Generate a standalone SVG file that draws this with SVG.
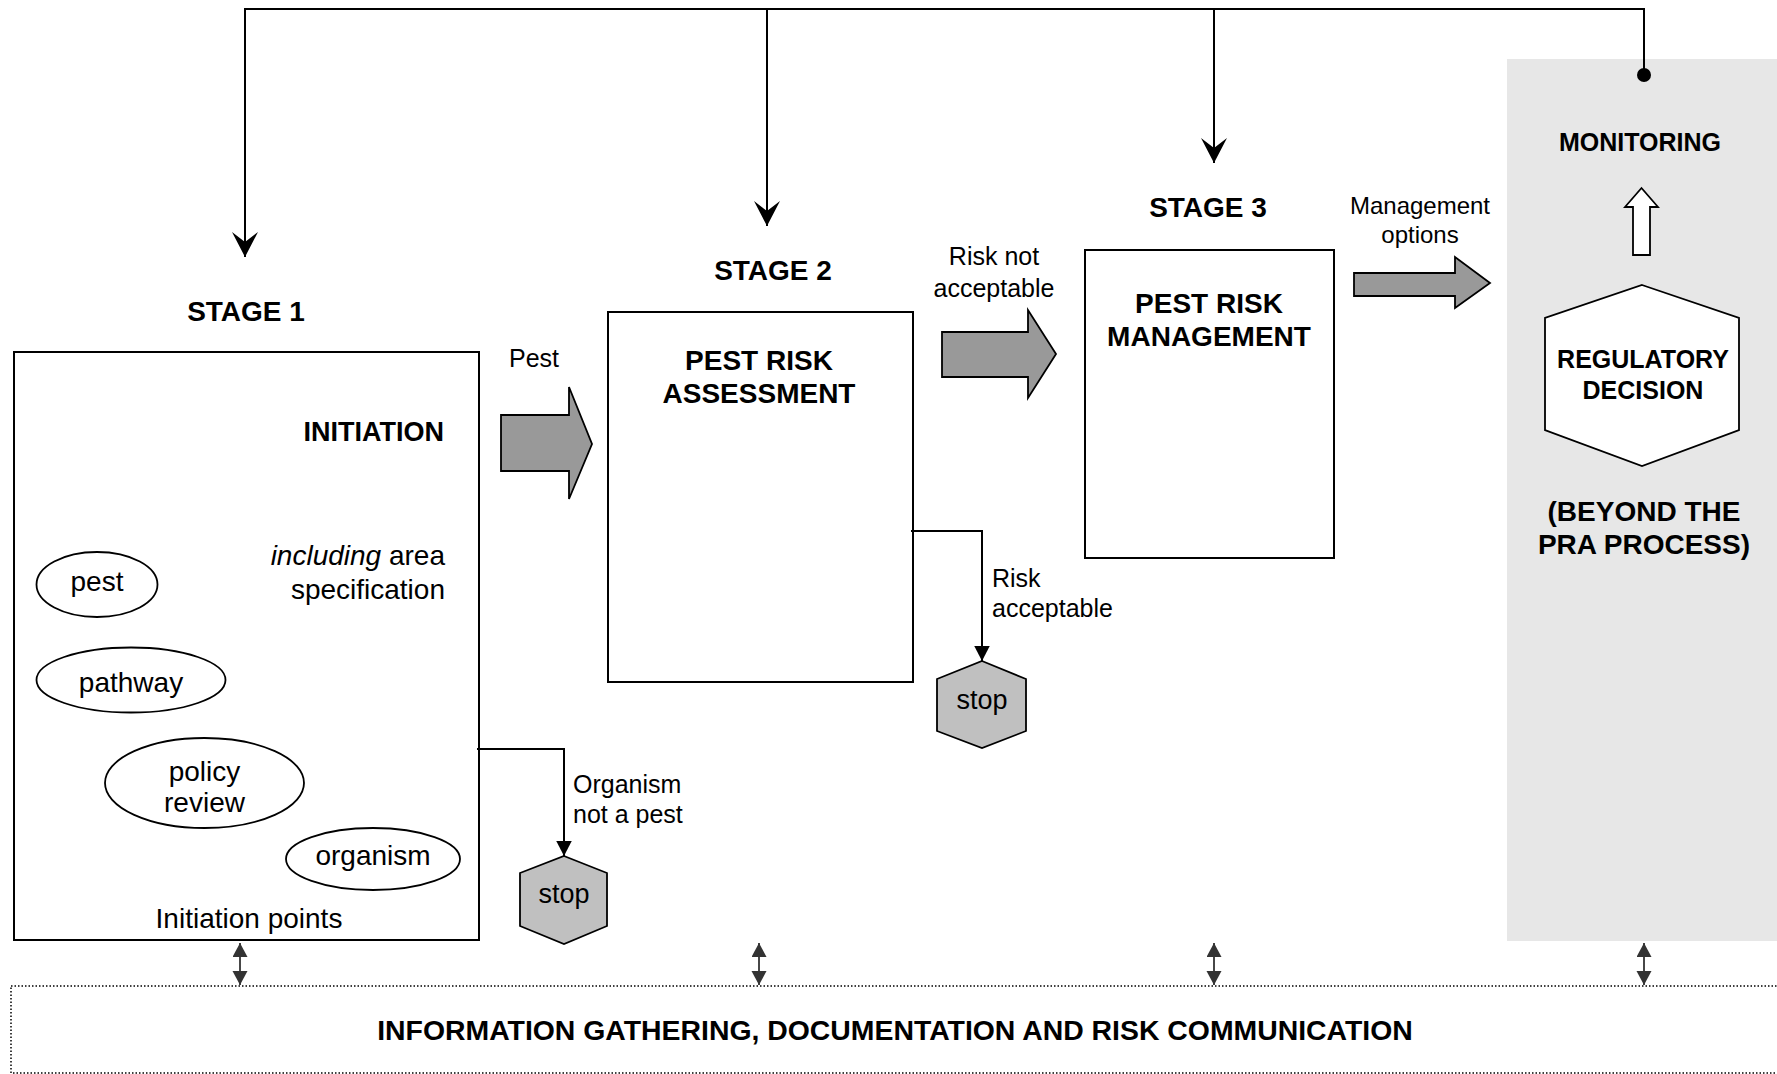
<svg xmlns="http://www.w3.org/2000/svg" width="1777" height="1074" viewBox="0 0 1777 1074">
<style>
text{font-family:"Liberation Sans",Arial,sans-serif;fill:#000}
.b{font-weight:bold;font-size:28px}
.b25{font-weight:bold;font-size:25px}
.n25{font-size:25px}
.n24{font-size:24px}
.n28{font-size:28px}
.box{fill:#fff;stroke:#000;stroke-width:2}
.ell{fill:#fff;stroke:#000;stroke-width:1.8}
.block{fill:#999;stroke:#000;stroke-width:1.8}
.stop{fill:#c0c0c0;stroke:#000;stroke-width:1.8}
.ln{fill:none;stroke:#000;stroke-width:2}
.dbl{fill:none;stroke:#333;stroke-width:1.8}
</style>
<defs>
<marker id="stealth" markerUnits="userSpaceOnUse" markerWidth="27" markerHeight="27" refX="25" refY="13" orient="auto" viewBox="0 0 27 27">
<path d="M25,13 L0,0 L10,13 L0,26 Z" fill="#000"/>
</marker>
<marker id="tri" markerUnits="userSpaceOnUse" markerWidth="16" markerHeight="16" refX="15" refY="7.75" orient="auto" viewBox="0 0 16 16">
<path d="M0,0 L15,7.75 L0,15.5 Z" fill="#000"/>
</marker>
<marker id="dtri" markerUnits="userSpaceOnUse" markerWidth="16" markerHeight="16" refX="14" refY="7.5" orient="auto-start-reverse" viewBox="0 0 16 16">
<path d="M0,0 L14,7.5 L0,15 Z" fill="#333"/>
</marker>
</defs>
<rect id="beyond-panel" x="1507" y="59" width="270" height="882" fill="#e7e7e7"/>
<g id="info-box">
<rect x="11" y="986" width="1780" height="87" fill="#fff" stroke="#000" stroke-width="1.5" stroke-dasharray="1.5,2"/>
<text class="b" x="895" y="1040" text-anchor="middle" style="font-size:28.4px">INFORMATION GATHERING, DOCUMENTATION AND RISK COMMUNICATION</text>
</g>
<g id="stage1">
<text class="b" x="246" y="321" text-anchor="middle">STAGE 1</text>
<rect class="box" x="14" y="352" width="465" height="588"/>
<text class="b" x="444" y="441" text-anchor="end" style="font-size:27px">INITIATION</text>
<text class="n28" x="445" y="565" text-anchor="end"><tspan font-style="italic">including</tspan> area</text>
<text class="n28" x="445" y="599" text-anchor="end">specification</text>
<text class="n28" x="249" y="928" text-anchor="middle">Initiation points</text>
</g>
<g id="ell-pest"><ellipse class="ell" cx="97" cy="584.5" rx="60.5" ry="32.5"/><text class="n28" x="97" y="591" text-anchor="middle">pest</text></g>
<g id="ell-pathway"><ellipse class="ell" cx="131" cy="680" rx="94.5" ry="32.5"/><text class="n28" x="131" y="692" text-anchor="middle">pathway</text></g>
<g id="ell-policy"><ellipse class="ell" cx="204.5" cy="783" rx="99.5" ry="45"/><text class="n28" x="204.5" y="781" text-anchor="middle">policy</text><text class="n28" x="204.5" y="812" text-anchor="middle">review</text></g>
<g id="ell-organism"><ellipse class="ell" cx="373" cy="859" rx="87" ry="31"/><text class="n28" x="373" y="865" text-anchor="middle">organism</text></g>
<g id="stage2">
<text class="b" x="773" y="280" text-anchor="middle">STAGE 2</text>
<rect class="box" x="608" y="312" width="305" height="370"/>
<text class="b" x="759" y="370" text-anchor="middle">PEST RISK</text>
<text class="b" x="759" y="403" text-anchor="middle">ASSESSMENT</text>
</g>
<g id="stage3">
<text class="b" x="1208" y="217" text-anchor="middle">STAGE 3</text>
<rect class="box" x="1085" y="250" width="249" height="308"/>
<text class="b" x="1209" y="313" text-anchor="middle">PEST RISK</text>
<text class="b" x="1209" y="346" text-anchor="middle">MANAGEMENT</text>
</g>
<g id="monitoring">
<text class="b25" x="1640" y="151" text-anchor="middle">MONITORING</text>
</g>
<g id="regulatory-decision">
<polygon points="1642,285 1739,318 1739,430 1642,466 1545,430 1545,318" fill="#fff" stroke="#000" stroke-width="1.8"/>
<text class="b25" x="1643" y="368" text-anchor="middle">REGULATORY</text>
<text class="b25" x="1643" y="399" text-anchor="middle">DECISION</text>
</g>
<g id="beyond-label">
<text class="b" x="1644" y="521" text-anchor="middle">(BEYOND THE</text>
<text class="b" x="1644" y="554" text-anchor="middle">PRA PROCESS)</text>
</g>
<g id="stop1">
<polygon class="stop" points="564,856 607,873 607,926 564,944 520,926 520,873"/>
<text class="n28" x="564" y="903" text-anchor="middle" style="font-size:27px">stop</text>
</g>
<g id="stop2">
<polygon class="stop" points="982,661 1026,679 1026,731 982,748 937,731 937,679"/>
<text class="n28" x="982" y="709" text-anchor="middle" style="font-size:27px">stop</text>
</g>
<g id="connectors">
<polyline class="ln" points="245,256 245,9 1644,9 1644,75"/>
<line class="ln" x1="245" y1="9" x2="245" y2="257" marker-end="url(#stealth)"/>
<line class="ln" x1="767" y1="9" x2="767" y2="226" marker-end="url(#stealth)"/>
<line class="ln" x1="1214" y1="9" x2="1214" y2="163" marker-end="url(#stealth)"/>
<circle cx="1644" cy="75" r="7" fill="#000"/>
<path class="block" d="M501,415 L569,415 L569,387 L592,444 L569,499 L569,471 L501,471 Z"/>
<path class="block" d="M942,332 L1028,332 L1028,310 L1056,354 L1028,398 L1028,377 L942,377 Z"/>
<path class="block" d="M1354,273 L1455,273 L1455,257 L1490,283 L1455,308 L1455,296 L1354,296 Z"/>
<path d="M1633,255 L1633,207 L1625,207 L1641.5,188 L1658,207 L1650,207 L1650,255 Z" fill="#fff" stroke="#000" stroke-width="1.8"/>
<polyline class="ln" points="477,749 564,749 564,856" marker-end="url(#tri)"/>
<polyline class="ln" points="911,531 982,531 982,661" marker-end="url(#tri)"/>
<line class="dbl" x1="240" y1="943" x2="240" y2="985" marker-start="url(#dtri)" marker-end="url(#dtri)"/>
<line class="dbl" x1="759" y1="943" x2="759" y2="985" marker-start="url(#dtri)" marker-end="url(#dtri)"/>
<line class="dbl" x1="1214" y1="943" x2="1214" y2="985" marker-start="url(#dtri)" marker-end="url(#dtri)"/>
<line class="dbl" x1="1644" y1="943" x2="1644" y2="985" marker-start="url(#dtri)" marker-end="url(#dtri)"/>
<text class="n25" x="509" y="367">Pest</text>
<text class="n25" x="994" y="265" text-anchor="middle">Risk not</text>
<text class="n25" x="994" y="297" text-anchor="middle">acceptable</text>
<text class="n24" x="1420" y="214" text-anchor="middle">Management</text>
<text class="n24" x="1420" y="243" text-anchor="middle">options</text>
<text class="n25" x="573" y="793">Organism</text>
<text class="n25" x="573" y="823">not a pest</text>
<text class="n25" x="992" y="587">Risk</text>
<text class="n25" x="992" y="617">acceptable</text>
</g>
</svg>
